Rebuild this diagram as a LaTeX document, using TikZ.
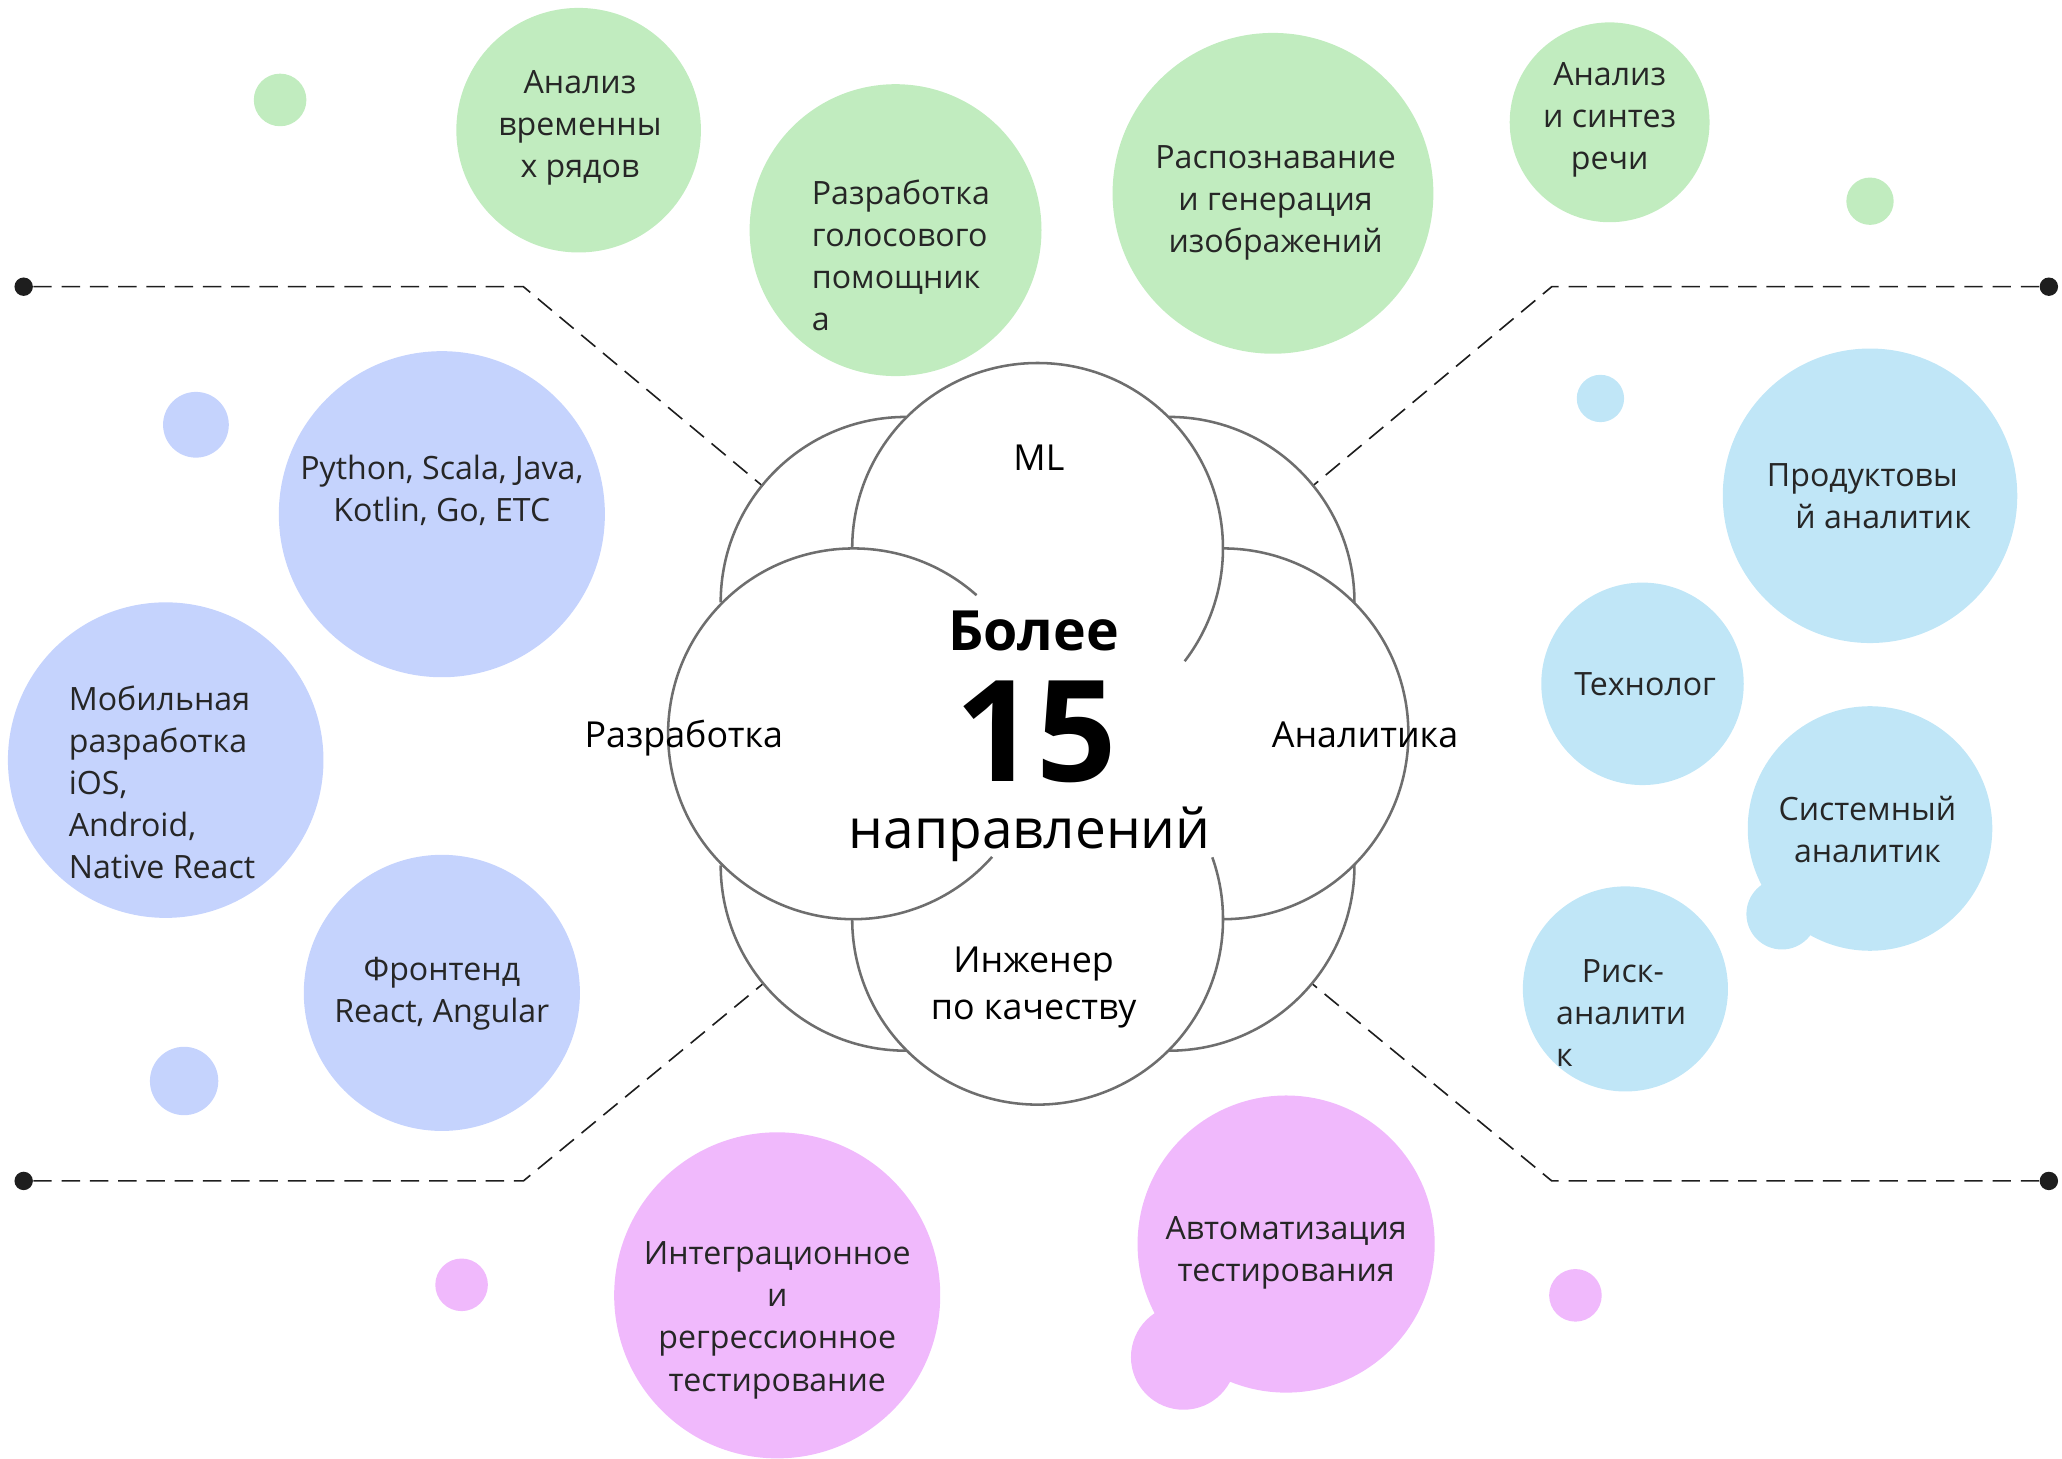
\documentclass[tikz,border=0pt]{standalone}
\usepackage{fontspec}
\setmainfont{Open Sans}
\usetikzlibrary{positioning}

\definecolor{mlgreen}{HTML}{C1ECBF}
\definecolor{devblue}{HTML}{C5D3FD}
\definecolor{anablue}{HTML}{C0E6F7}
\definecolor{qapink}{HTML}{F0B9FC}
\definecolor{ringgray}{HTML}{6E6E6E}
\definecolor{ink}{HTML}{1E1E1E}
\definecolor{txt}{HTML}{262626}

\tikzset{
  bubble/.style={circle, inner sep=0pt, fill=#1},
  dot/.style={circle, fill=ink, inner sep=0pt, minimum size=0.28cm},
  guide/.style={dash pattern=on 2.8mm off 1.5mm, line width=0.7pt, draw=ink},
  petal/.style={draw=ringgray, line width=1.1pt},
  tag/.style={text=txt, inner sep=0pt, font=\fontsize{13.9}{18.2}\selectfont},
  area/.style={text=black, inner sep=0pt, font=\fontsize{15.5}{20.5}\selectfont, align=center},
}

\begin{document}
\begin{tikzpicture}[x=0.02cm, y=-0.02cm]
  \useasboundingbox (0,0) rectangle (1568,1109);
  \def\pr{2.82cm}

  % ML bubbles
  \node[bubble=mlgreen, minimum size=0.8cm]  (ml_0) at (213,76)  {};
  \node[bubble=mlgreen, minimum size=3.72cm] (ml_1) at (440,99)  {};
  \node[bubble=mlgreen, minimum size=4.44cm] (ml_2) at (681,175) {};
  \node[bubble=mlgreen, minimum size=4.88cm] (ml_3) at (968,147) {};
  \node[bubble=mlgreen, minimum size=3.04cm] (ml_4) at (1224,93) {};
  \node[bubble=mlgreen, minimum size=0.72cm] (ml_5) at (1422,153) {};

  % development bubbles
  \node[bubble=devblue, minimum size=1.0cm]  (dev_0) at (149,323) {};
  \node[bubble=devblue, minimum size=4.96cm] (dev_1) at (336,391) {};
  \node[bubble=devblue, minimum size=4.8cm]  (dev_2) at (126,578) {};
  \node[bubble=devblue, minimum size=4.2cm]  (dev_3) at (336,755) {};
  \node[bubble=devblue, minimum size=1.04cm] (dev_4) at (140,822) {};

  % analytics bubbles
  \node[bubble=anablue, minimum size=0.72cm] (an_0) at (1217,303) {};
  \node[bubble=anablue, minimum size=4.48cm] (an_1) at (1422,377) {};
  \node[bubble=anablue, minimum size=3.08cm] (an_2) at (1249,520) {};
  \node[bubble=anablue, minimum size=3.72cm] (an_3) at (1422,630) {};
  \node[bubble=anablue, minimum size=1.08cm] (an_3b) at (1355,695) {};
  \node[bubble=anablue, minimum size=3.12cm] (an_4) at (1236,752) {};

  % QA bubbles
  \node[bubble=qapink, minimum size=0.8cm]  (qa_0) at (351,977)  {};
  \node[bubble=qapink, minimum size=4.96cm] (qa_1) at (591,985)  {};
  \node[bubble=qapink, minimum size=4.52cm] (qa_2) at (978,946)  {};
  \node[bubble=qapink, minimum size=1.6cm]  (qa_2b) at (900,1032) {};
  \node[bubble=qapink, minimum size=0.8cm]  (qa_3) at (1198,985) {};

  % guide lines
  \node[dot] (d_tl) at (18,218) {};
  \node[dot] (d_tr) at (1558,218) {};
  \node[dot] (d_bl) at (18,898) {};
  \node[dot] (d_br) at (1558,898) {};
  \coordinate (k_tl) at (398,218);
  \coordinate (k_tr) at (1180,218);
  \coordinate (k_bl) at (398,898);
  \coordinate (k_br) at (1180,898);
  \coordinate (e_tl) at (590,378);
  \coordinate (e_tr) at (988,378);
  \coordinate (e_bl) at (590,740);
  \coordinate (e_br) at (988,740);
  \draw[guide] (d_tl) -- (k_tl) -- (e_tl);
  \draw[guide] (d_tr) -- (k_tr) -- (e_tr);
  \draw[guide] (d_bl) -- (k_bl) -- (e_bl);
  \draw[guide] (d_br) -- (k_br) -- (e_br);

  % flower
  \coordinate (p_t)  at (789,417);
  \coordinate (p_r)  at (930,558);
  \coordinate (p_b)  at (789,699);
  \coordinate (p_l)  at (649,558);
  \coordinate (p_tl) at (689,458);
  \coordinate (p_tr) at (889,458);
  \coordinate (p_br) at (889,658);
  \coordinate (p_bl) at (689,658);
  \fill[white] (p_t) circle[radius=\pr] (p_r) circle[radius=\pr]
               (p_b) circle[radius=\pr] (p_l) circle[radius=\pr]
               (p_tl) circle[radius=\pr] (p_tr) circle[radius=\pr]
               (p_br) circle[radius=\pr] (p_bl) circle[radius=\pr];
  \draw[petal] (p_tl) ++(90:\pr) arc[start angle=90, end angle=180, radius=\pr];
  \draw[petal] (p_tr) ++(0:\pr) arc[start angle=0, end angle=90, radius=\pr];
  \draw[petal] (p_br) ++(-90:\pr) arc[start angle=-90, end angle=0, radius=\pr];
  \draw[petal] (p_bl) ++(180:\pr) arc[start angle=180, end angle=270, radius=\pr];
  \draw[petal] (p_t) ++(180:\pr) arc[start angle=180, end angle=-37.5, radius=\pr];
  \draw[petal] (p_r) ++(90:\pr) arc[start angle=90, end angle=-90, radius=\pr];
  \draw[petal] (p_b) ++(19.5:\pr) arc[start angle=19.5, end angle=-180, radius=\pr];
  \draw[petal] (p_l) ++(48.4:\pr) arc[start angle=48.4, end angle=318.4, radius=\pr];

  % centre text
  \node[anchor=base, font=\bfseries\fontsize{24}{29}\selectfont] (more) at (786,495) {Более};
  \node[anchor=base, font=\bfseries\fontsize{61}{68}\selectfont] (num) at (788,594) {15};
  \node[anchor=base, font=\fontsize{23.8}{29}\selectfont] (dirs) at (783,645) {направлений};

  \node[area] (a_ml)  at (790,348) {ML};
  \node[area] (a_dev) at (520,561) {Разработка};
  \node[area] (a_an)  at (1038,559) {Аналитика};
  \node[area] (a_qa)  at (786,751) {Инженер\\по качеству};

  % bubble texts
  \node[tag, align=center] (ml_1t) at (441,97)  {Анализ\\временны\\х рядов};
  \node[tag, align=left, anchor=west] (ml_2t) at (617,194) {Разработка\\голосового\\помощник\\а};
  \node[tag, align=center] (ml_3t) at (970,154) {Распознавание\\и генерация\\изображений};
  \node[tag, align=center] (ml_4t) at (1224,91) {Анализ\\и синтез\\речи};

  \node[tag, align=center] (dev_1t) at (336,373) {Python, Scala, Java,\\Kotlin, Go, ETC};
  \node[tag, align=left, anchor=west] (dev_2t) at (52,595) {Мобильная\\разработка\\iOS,\\Android,\\Native React};
  \node[tag, align=center] (dev_3t) at (336,756) {Фронтенд\\React, Angular};

  \node[tag, align=center] (an_1t) at (1432,377) {Продуктовы\hspace*{1.3em}\\й аналитик};
  \node[tag, align=center] (an_2t) at (1251,520) {Технолог};
  \node[tag, align=center] (an_3t) at (1420,631) {Системный\\аналитик};
  \node[tag, align=left, anchor=west] (an_4t) at (1183,770) {\hspace*{0.8em}Риск-\\аналити\\к};

  \node[tag, align=center] (qa_1t) at (591,1004) {Интеграционное\\и\\регрессионное\\тестирование};
  \node[tag, align=center] (qa_2t) at (978,953) {Автоматизация\\тестирования};
\end{tikzpicture}
\end{document}
